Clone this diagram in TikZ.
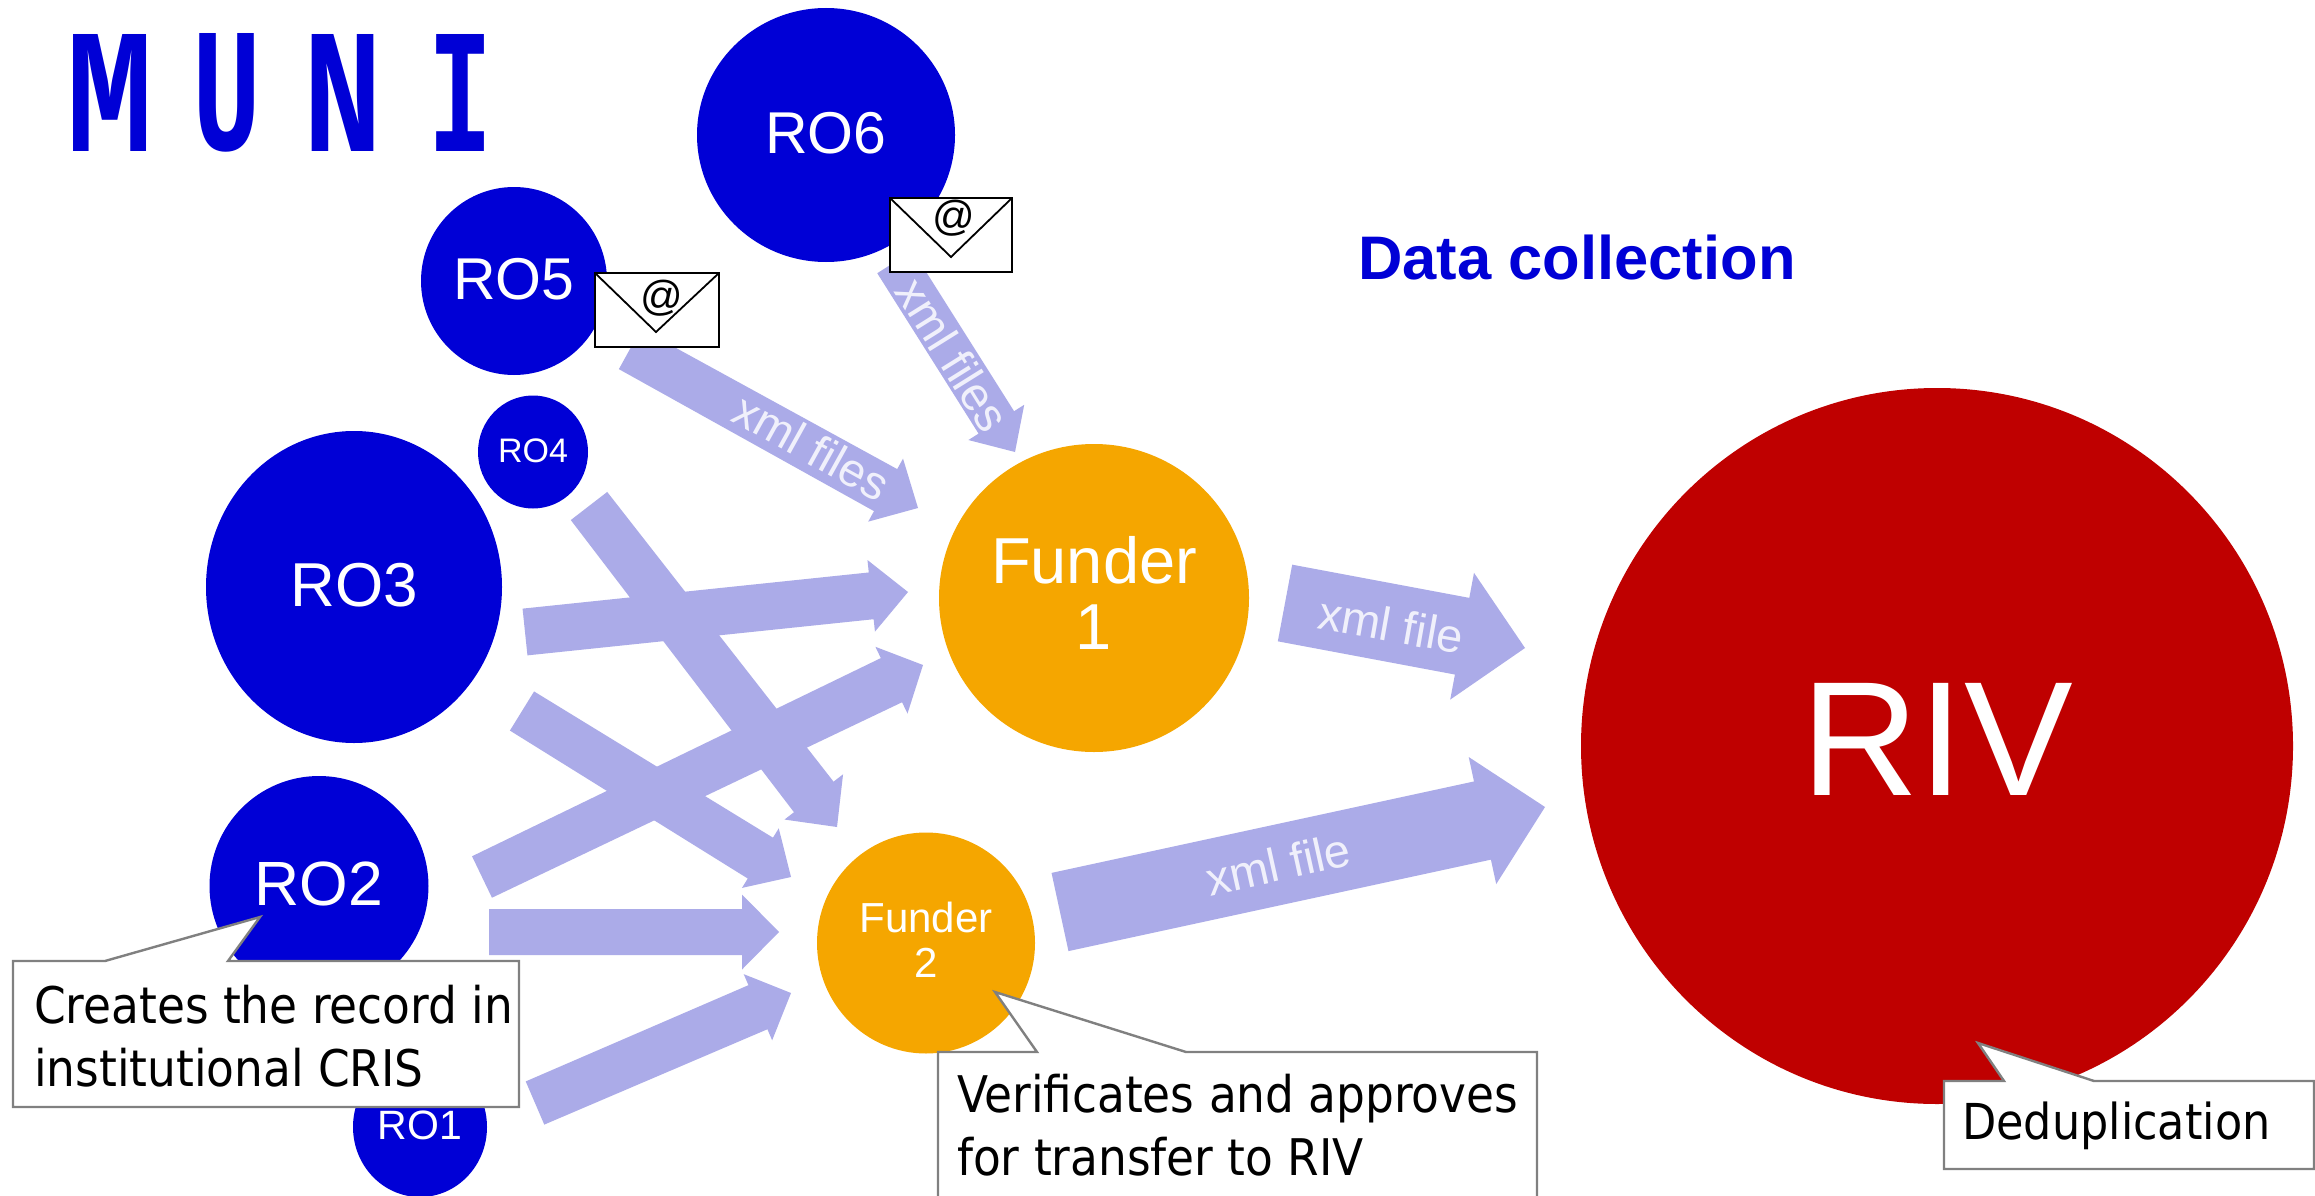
\documentclass[tikz,border=0pt]{standalone}
\usepackage{fontspec}
\setmainfont{Liberation Sans}
\newfontfamily\munifont{Liberation Mono}
\newfontfamily\callfont{DejaVu Sans Condensed}
\usetikzlibrary{calc,shapes.geometric}
\definecolor{roblue}{HTML}{0000D6}
\definecolor{funder}{HTML}{F5A600}
\definecolor{rivred}{HTML}{BF0000}
\definecolor{flowc}{HTML}{ABABE8}
\definecolor{flowtext}{HTML}{F0F0FB}
\definecolor{callgray}{HTML}{808080}
\tikzset{
  org/.style={ellipse,inner sep=0pt,fill=#1,text=white,align=center},
  flow/.style={fill=flowc,draw=none},
  flowlabel/.style={text=flowtext,font=\fontsize{47}{50}\selectfont,inner sep=0pt},
  callout/.style={fill=white,draw=callgray,line width=2.4pt,line join=miter},
  calltext/.style={font=\callfont\fontsize{50.5}{63}\selectfont,align=left,inner sep=0pt,anchor=west,text=black},
  mail/.style={fill=white,draw=black,line width=2.6pt},
  mailflap/.style={draw=black,line width=1.8pt},
  muniletter/.style={inner sep=0pt,text=roblue}
}
\newcommand{\blockarrow}[6]{%
  \coordinate (bh) at ($(#2)!#6!(#1)$);
  \fill[flow] ($(#1)!#3!90:(#2)$) -- ($(bh)!#4!90:(#2)$) -- ($(bh)!#5!90:(#2)$) -- (#2)
     -- ($(bh)!#5!-90:(#2)$) -- ($(bh)!#4!-90:(#2)$) -- ($(#1)!#3!-90:(#2)$) -- cycle;}
\begin{document}
\begin{tikzpicture}[x=1pt,y=-1pt]
\useasboundingbox (0,0) rectangle (2315,1196);
\clip (0,0) rectangle (2315,1196);
\fill[white] (0,0) rectangle (2315,1196);
% logo
\node[muniletter] (munim) at (110,92.5) {\resizebox{87pt}{117pt}{\munifont\bfseries M}};
\node[muniletter] (muniu) at (227,93) {\resizebox{69pt}{117pt}{\munifont\bfseries U}};
\node[muniletter] (munin) at (343.5,92.5) {\resizebox{79pt}{117pt}{\munifont\bfseries N}};
\node[muniletter] (munii) at (460.5,92.5) {\resizebox{64pt}{117pt}{\munifont\bfseries I}};
\node[text=roblue,font=\bfseries\fontsize{61.5}{66}\selectfont,inner sep=0pt] (title) at (1577,258) {Data collection};
% organisations
\node[org=roblue,text depth=5pt,minimum width=258pt,minimum height=254pt,font=\fontsize{59}{62}\selectfont] (ro6) at (826,135) {RO6};
\node[org=roblue,text depth=5pt,minimum width=186pt,minimum height=188pt,font=\fontsize{59}{62}\selectfont] (ro5) at (514,281) {RO5};
\node[org=roblue,text depth=3pt,minimum width=110pt,minimum height=113pt,font=\fontsize{34}{36}\selectfont] (ro4) at (533,452) {RO4};
\node[org=roblue,text depth=5pt,minimum width=296pt,minimum height=312pt,font=\fontsize{62}{64}\selectfont] (ro3) at (354,587) {RO3};
\node[org=roblue,text depth=5pt,minimum width=219pt,minimum height=220pt,font=\fontsize{62.5}{65}\selectfont] (ro2) at (319,886) {RO2};
\node[org=roblue,text depth=3pt,minimum width=134pt,minimum height=140pt,font=\fontsize{41}{44}\selectfont] (ro1) at (420,1127) {RO1};
\node[org=funder,text depth=10pt,minimum width=310pt,minimum height=308pt,font=\fontsize{65}{66}\selectfont] (f1) at (1094,598) {Funder\\1};
\node[org=funder,text depth=6pt,minimum width=218pt,minimum height=221pt,font=\fontsize{42}{45}\selectfont] (f2) at (926,943) {Funder\\2};
\node[org=rivred,text depth=14pt,minimum width=712pt,minimum height=716pt,font=\fontsize{163}{170}\selectfont] (riv) at (1937,746) {RIV};
% flow arrows
\coordinate (a6s) at (895,262);   \coordinate (a6t) at (1015,452);
\coordinate (a5s) at (630,349);   \coordinate (a5t) at (918,508);
\coordinate (a4s) at (589,506);   \coordinate (a4t) at (837,827);
\coordinate (a3s) at (525,632);   \coordinate (a3t) at (908,592);
\coordinate (a3bs) at (522,711);  \coordinate (a3bt) at (791,877);
\coordinate (a2s) at (482,877);   \coordinate (a2t) at (923,665);
\coordinate (a2bs) at (489,932);  \coordinate (a2bt) at (779,932);
\coordinate (a1s) at (535,1103);  \coordinate (a1t) at (791,993);
\coordinate (b1s) at (1285,603);  \coordinate (b1t) at (1525,648);
\coordinate (b2s) at (1060,912);  \coordinate (b2t) at (1545,807);
\blockarrow{a6s}{a6t}{21pt}{21pt}{33pt}{35pt}
\blockarrow{a5s}{a5t}{23pt}{24pt}{36pt}{37pt}
\blockarrow{a4s}{a4t}{23pt}{25pt}{37pt}{38pt}
\blockarrow{a3s}{a3t}{23.5pt}{23.5pt}{36pt}{37pt}
\blockarrow{a3bs}{a3bt}{23pt}{24pt}{35pt}{36pt}
\blockarrow{a2s}{a2t}{23pt}{24.5pt}{37pt}{35pt}
\blockarrow{a2bs}{a2bt}{23pt}{23pt}{37.5pt}{37pt}
\blockarrow{a1s}{a1t}{23.5pt}{24pt}{36pt}{36pt}
\blockarrow{b1s}{b1t}{39pt}{39pt}{64.5pt}{64pt}
\blockarrow{b2s}{b2t}{40pt}{40pt}{65pt}{64pt}
\node[flowlabel,rotate=-29] (l5) at (812,447) {xml files};
\node[flowlabel,rotate=-58] (l6) at (953,355) {xml files};
\node[flowlabel,rotate=-10] (l1) at (1391,625) {xml file};
\node[flowlabel,rotate=12.5] (l2) at (1278,864) {xml file};
% envelopes
\draw[mail] (595,273) rectangle (719,347);
\draw[mailflap] (595,273) -- (656,332) -- (719,273);
\node[inner sep=0pt,font=\fontsize{42}{44}\selectfont] (at5) at (662,298) {@};
\draw[mail] (890,198) rectangle (1012,272);
\draw[mailflap] (890,198) -- (951,257) -- (1012,198);
\node[inner sep=0pt,font=\fontsize{42}{44}\selectfont] (at6) at (954,218) {@};
% callouts
\draw[callout] (13,961) -- (105,961) -- (260,917) -- (228,961) -- (519,961) -- (519,1107) -- (13,1107) -- cycle;
\node[calltext] (c2) at (34,1036) {Creates the record in\\institutional CRIS};
\draw[callout] (938,1052) -- (1037,1052) -- (995,992) -- (1186,1052) -- (1537,1052) -- (1537,1230) -- (938,1230) -- cycle;
\node[calltext] (cf) at (957,1125) {Verificates and approves\\for transfer to RIV};
\draw[callout] (1944,1081) -- (2004,1081) -- (1978,1043) -- (2094,1081) -- (2314,1081) -- (2314,1169) -- (1944,1169) -- cycle;
\node[calltext,font=\callfont\fontsize{49.5}{63}\selectfont] (cd) at (1962,1126) {Deduplication};
\end{tikzpicture}
\end{document}
